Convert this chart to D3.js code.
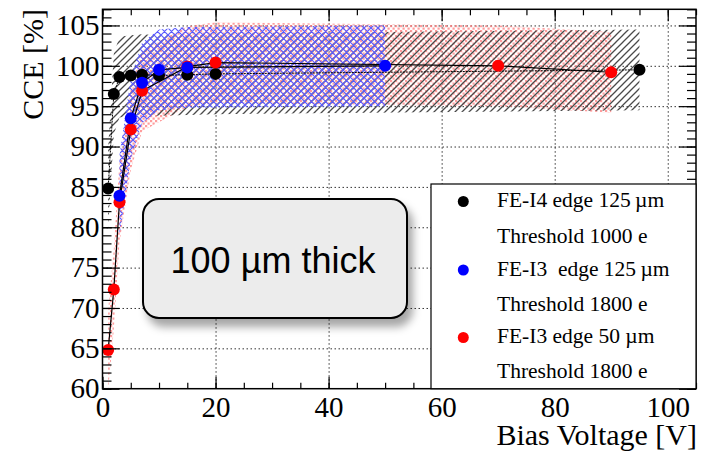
<!DOCTYPE html>
<html>
<head>
<meta charset="utf-8">
<script src="https://cdn.jsdelivr.net/npm/d3@7"></script>
<style>
  html, body { margin: 0; padding: 0; background: #fff; }
  svg { display: block; }
</style>
</head>
<body>
<svg id="chart" width="702" height="454"></svg>
<script>
// CCE versus bias voltage for 100 um thick sensors
const fei4V     = [1, 2, 3, 5, 7, 10, 15, 20, 95];
const fei4CCE   = [84.8, 96.5, 98.6, 98.8, 98.9, 98.8, 98.9, 99.0, 99.5];
const fei3aV    = [3, 5, 7, 10, 15, 50];
const fei3aCCE  = [83.9, 93.5, 97.9, 99.5, 99.8, 100.0];
const fei3bV    = [1, 2, 3, 5, 7, 15, 20, 70, 90];
const fei3bCCE  = [64.8, 72.3, 83.1, 92.1, 96.9, 99.9, 100.4, 100.0, 99.2];
const cceError  = 5;

const xTickLabels = [0, 20, 40, 60, 80, 100];
const yTickLabels = [60, 65, 70, 75, 80, 85, 90, 95, 100, 105];
const xMinorTicks = d3.range(0, 106, 5);
const yMinorTicks = d3.range(60, 108, 1);

const legendLines = [
  ["FE-I4 edge 125\u2009\u00b5m", "Threshold 1000 e"],
  ["FE-I3  edge 125\u2009\u00b5m", "Threshold 1800 e"],
  ["FE-I3 edge 50 \u00b5m", "Threshold 1800 e"]
];
const seriesColors = ["#000000", "#0000ff", "#ff0000"];

const svg = d3.select("#chart");
const L = 102.5, R = 696, T = 9.3, B = 388.7;
const x = d3.scaleLinear().domain([0, 105]).range([L, R]);
const y = d3.scaleLinear().domain([60, 107]).range([B, T]);

const serif = "'Liberation Serif', 'Times New Roman', serif";

// ---- fill patterns for the error bands ----
const defs = svg.append("defs");
const hatchGray = defs.append("pattern").attr("id", "hatchGray")
  .attr("patternUnits", "userSpaceOnUse").attr("width", 7).attr("height", 7);
hatchGray.append("path").attr("d", "M-1,1 L1,-1 M0,7 L7,0 M6,8 L8,6")
  .attr("stroke", "#4a4a4a").attr("stroke-width", 1.3);

const hatchBlue = defs.append("pattern").attr("id", "hatchBlue")
  .attr("patternUnits", "userSpaceOnUse").attr("width", 7).attr("height", 7);
hatchBlue.append("path").attr("d", "M-1,1 L1,-1 M0,7 L7,0 M6,8 L8,6 M-1,6 L1,8 M0,0 L7,7 M6,-1 L8,1")
  .attr("stroke", "#5a5aff").attr("stroke-width", 1.2);

const dotsRed = defs.append("pattern").attr("id", "dotsRed")
  .attr("patternUnits", "userSpaceOnUse").attr("width", 5).attr("height", 5);
dotsRed.append("rect").attr("x", 0).attr("y", 0).attr("width", 2.2).attr("height", 2.2)
  .attr("fill", "#ff7a7a").attr("opacity", 0.75);
dotsRed.append("rect").attr("x", 2.5).attr("y", 2.5).attr("width", 2.2).attr("height", 2.2)
  .attr("fill", "#ff7a7a").attr("opacity", 0.75);

const shadow = defs.append("filter").attr("id", "shadow")
  .attr("x", "-20%").attr("y", "-20%").attr("width", "150%").attr("height", "160%");
shadow.append("feDropShadow").attr("dx", 5).attr("dy", 8).attr("stdDeviation", 4)
  .attr("flood-color", "#000").attr("flood-opacity", 0.35);

defs.append("clipPath").attr("id", "plotClip")
  .append("rect").attr("x", L).attr("y", T).attr("width", R - L).attr("height", B - T);

// ---- grid ----
const grid = svg.append("g");
grid.append("g").attr("transform", `translate(0,${B})`)
  .call(d3.axisBottom(x).tickValues(xTickLabels.filter(d => d > 0 && d < 105)).tickSize(-(B - T)).tickFormat(""))
  .call(g => g.select(".domain").remove());
grid.append("g").attr("transform", `translate(${L},0)`)
  .call(d3.axisLeft(y).tickValues(yTickLabels.filter(d => d > 60)).tickSize(-(R - L)).tickFormat(""))
  .call(g => g.select(".domain").remove());
grid.selectAll("line").attr("stroke", "#333").attr("stroke-width", 1).attr("stroke-dasharray", "1.5,2.5");

// ---- error bands ----
function band(vs, cs) {
  const up = vs.map((v, i) => [x(v), y(cs[i] + cceError)]);
  const dn = vs.map((v, i) => [x(v), y(cs[i] - cceError)]).reverse();
  return "M" + up.concat(dn).map(p => p.join(",")).join("L") + "Z";
}
const bands = svg.append("g").attr("clip-path", "url(#plotClip)");
bands.append("path").attr("d", band(fei3bV, fei3bCCE)).attr("fill", "url(#dotsRed)");
bands.append("path").attr("d", band(fei4V, fei4CCE)).attr("fill", "url(#hatchGray)");
bands.append("path").attr("d", band(fei3aV, fei3aCCE)).attr("fill", "url(#hatchBlue)");

// ---- connecting lines ----
const line = d3.line();
const lines = svg.append("g").attr("clip-path", "url(#plotClip)").attr("fill", "none");
lines.append("path").attr("d", line(fei4V.map((v, i) => [x(v), y(fei4CCE[i])])))
  .attr("stroke", "#000").attr("stroke-width", 1).attr("stroke-dasharray", "2,1");
lines.append("path").attr("d", line(fei3bV.map((v, i) => [x(v), y(fei3bCCE[i])])))
  .attr("stroke", "#000").attr("stroke-width", 1.2);
lines.append("path").attr("d", line(fei3aV.map((v, i) => [x(v), y(fei3aCCE[i])])))
  .attr("stroke", "#000").attr("stroke-width", 1.2);

// ---- markers ----
const marks = svg.append("g");
[[fei4V, fei4CCE, seriesColors[0]], [fei3bV, fei3bCCE, seriesColors[2]], [fei3aV, fei3aCCE, seriesColors[1]]]
  .forEach(([vs, cs, col]) => {
    marks.append("g").selectAll("circle").data(vs).join("circle")
      .attr("cx", d => x(d)).attr("cy", (d, i) => y(cs[i])).attr("r", 6).attr("fill", col);
  });

// ---- axes with inward ticks on all four sides ----
function styleAxis(g) {
  g.select(".domain").remove();
  g.selectAll("line").attr("stroke", "#000").attr("stroke-width", 1.2);
  g.selectAll("text").attr("font-family", serif).attr("font-size", 29).attr("fill", "#000");
}
svg.append("g").attr("transform", `translate(${L},0)`)
  .call(d3.axisLeft(y).tickValues(yMinorTicks).tickSize(-9).tickFormat("")).call(styleAxis);
svg.append("g").attr("transform", `translate(${L},0)`)
  .call(d3.axisLeft(y).tickValues(yTickLabels).tickSize(-17).tickPadding(3).tickFormat(d3.format("d")))
  .call(styleAxis);
svg.append("g").attr("transform", `translate(${R},0)`)
  .call(d3.axisRight(y).tickValues(yMinorTicks).tickSize(-9).tickFormat("")).call(styleAxis);
svg.append("g").attr("transform", `translate(${R},0)`)
  .call(d3.axisRight(y).tickValues(yTickLabels).tickSize(-17).tickFormat("")).call(styleAxis);
svg.append("g").attr("transform", `translate(0,${B})`)
  .call(d3.axisBottom(x).tickValues(xMinorTicks).tickSize(-6).tickFormat("")).call(styleAxis);
svg.append("g").attr("transform", `translate(0,${B})`)
  .call(d3.axisBottom(x).tickValues(xTickLabels).tickSize(-12).tickPadding(8).tickFormat(d3.format("d")))
  .call(styleAxis);
svg.append("g").attr("transform", `translate(0,${T})`)
  .call(d3.axisTop(x).tickValues(xMinorTicks).tickSize(-6).tickFormat("")).call(styleAxis);
svg.append("g").attr("transform", `translate(0,${T})`)
  .call(d3.axisTop(x).tickValues(xTickLabels).tickSize(-12).tickFormat("")).call(styleAxis);

svg.append("rect").attr("x", L).attr("y", T).attr("width", R - L).attr("height", B - T)
  .attr("fill", "none").attr("stroke", "#000").attr("stroke-width", 1.5);

// ---- axis titles ----
svg.append("text").attr("transform", "translate(43,9) rotate(-90)")
  .attr("text-anchor", "end").attr("font-family", serif).attr("font-size", 30)
  .text("CCE [%]");
svg.append("text").attr("x", 697).attr("y", 445)
  .attr("text-anchor", "end").attr("font-family", serif).attr("font-size", 30)
  .text("Bias Voltage [V]");

// ---- legend ----
const leg = svg.append("g");
leg.append("rect").attr("x", 431).attr("y", 184).attr("width", R - 431).attr("height", B - 184)
  .attr("fill", "#fff").attr("stroke", "#000").attr("stroke-width", 1.2);
const rowBase = [207, 242.5, 275.5, 310.5, 343, 377.5];
legendLines.forEach((pair, i) => {
  leg.append("circle").attr("cx", 463.3).attr("cy", rowBase[2 * i] - 5.5).attr("r", 5.5)
    .attr("fill", seriesColors[i]);
  pair.forEach((t, j) => {
    leg.append("text").attr("x", 497).attr("y", rowBase[2 * i + j])
      .attr("font-family", serif).attr("font-size", 21.5).attr("fill", "#000")
      .style("white-space", "pre").text(t);
  });
});

// ---- thickness annotation ----
const note = svg.append("g");
note.append("rect").attr("x", 143).attr("y", 199).attr("width", 264).attr("height", 119)
  .attr("rx", 16).attr("ry", 16).attr("fill", "#ececec").attr("stroke", "#000")
  .attr("stroke-width", 2).attr("filter", "url(#shadow)");
note.append("text").attr("x", 273).attr("y", 273).attr("text-anchor", "middle")
  .attr("font-family", "'Liberation Sans', Arial, sans-serif").attr("font-size", 36)
  .text("100 \u00b5m thick");
</script>
</body>
</html>
